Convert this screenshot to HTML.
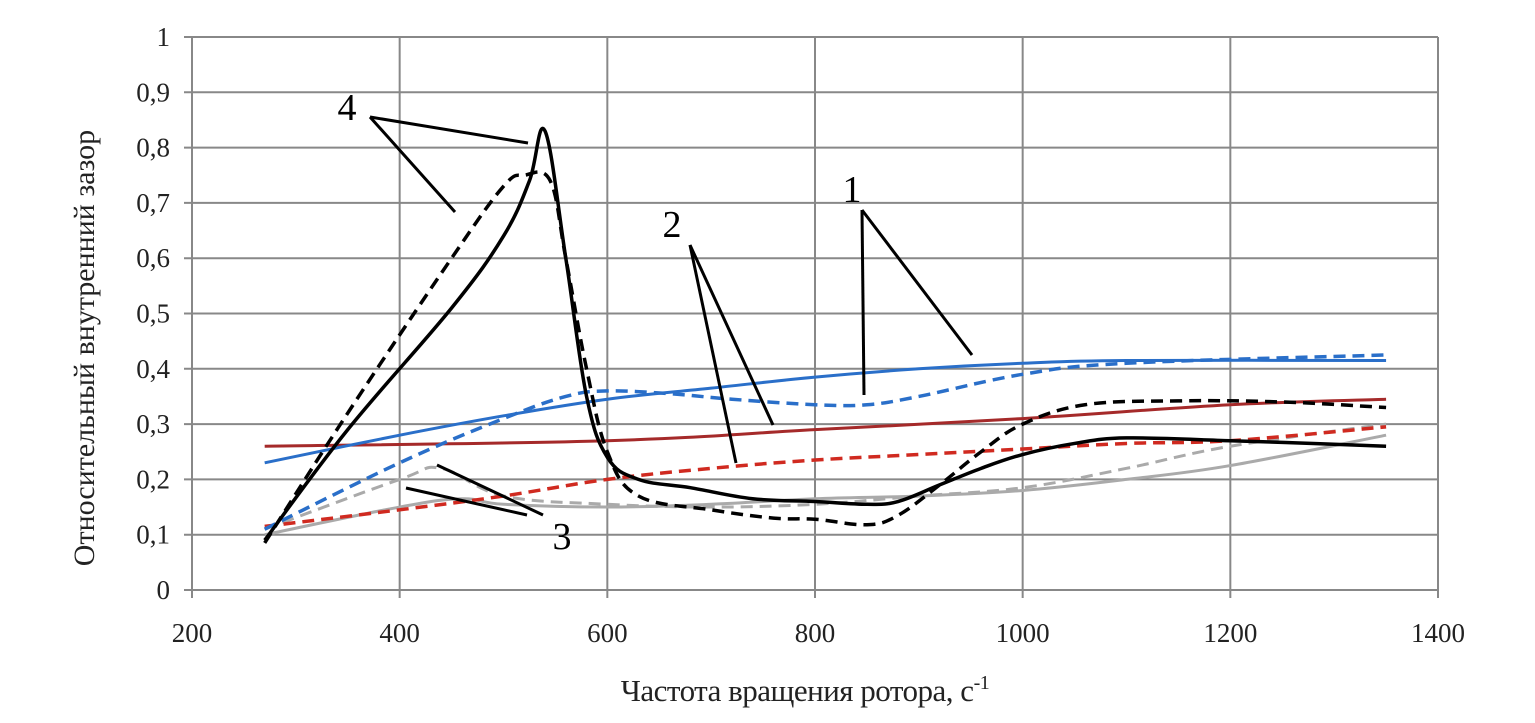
<!DOCTYPE html>
<html><head><meta charset="utf-8"><style>
body{margin:0;background:#fff}
svg{display:block;font-family:"Liberation Serif",serif}
</style></head><body>
<svg id="c" width="1535" height="723"></svg>
<script>
const xTicks=[200,400,600,800,1000,1200,1400];
const yTicks=[0,0.1,0.2,0.3,0.4,0.5,0.6,0.7,0.8,0.9,1];
const yTickLabels=["0","0,1","0,2","0,3","0,4","0,5","0,6","0,7","0,8","0,9","1"];
const blackSolidX=[270,350,450,500,525,540,560,580,600,630,680,740,800,850,880,920,960,1000,1050,1100,1200,1280,1350];
const blackSolidY=[0.09,0.29,0.51,0.64,0.74,0.83,0.6,0.35,0.24,0.2,0.185,0.165,0.16,0.155,0.16,0.19,0.22,0.245,0.265,0.275,0.27,0.265,0.26];
const blackDashX=[270,350,450,500,520,545,560,580,600,630,700,760,800,850,880,920,960,1000,1060,1150,1250,1350];
const blackDashY=[0.085,0.32,0.6,0.73,0.75,0.74,0.6,0.4,0.25,0.17,0.145,0.13,0.128,0.118,0.135,0.19,0.25,0.3,0.335,0.342,0.34,0.33];
const blueSolidX=[270,400,500,600,700,800,900,1000,1100,1350];
const blueSolidY=[0.23,0.28,0.315,0.345,0.365,0.385,0.4,0.41,0.415,0.415];
const blueDashX=[270,400,500,560,600,660,720,800,850,900,1000,1100,1350];
const blueDashY=[0.11,0.23,0.31,0.35,0.36,0.355,0.345,0.335,0.335,0.35,0.39,0.41,0.425];
const redSolidX=[270,600,800,1000,1200,1350];
const redSolidY=[0.26,0.27,0.29,0.31,0.335,0.345];
const redDashX=[270,400,500,600,700,800,900,1000,1100,1200,1350];
const redDashY=[0.115,0.145,0.17,0.2,0.22,0.235,0.245,0.255,0.265,0.27,0.295];
const graySolidX=[270,400,460,500,600,700,800,900,1000,1100,1200,1350];
const graySolidY=[0.1,0.15,0.165,0.155,0.15,0.155,0.165,0.17,0.18,0.2,0.225,0.28];
const grayDashX=[270,400,440,500,600,700,800,900,1000,1100,1200,1350];
const grayDashY=[0.11,0.2,0.22,0.17,0.155,0.15,0.155,0.17,0.185,0.22,0.26,0.3];

const NS="http://www.w3.org/2000/svg";
const svg=document.getElementById('c');
const X0=192,X1=1438,Y0=590,Y1=37;
const sx=v=>X0+(v-200)/1200*(X1-X0);
const sy=v=>Y0-v*(Y0-Y1);
function mk(t,a,p){const e=document.createElementNS(NS,t);for(const k in a)e.setAttribute(k,a[k]);(p||svg).appendChild(e);return e;}

const grid=mk('g',{});


yTicks.forEach((v,i)=>{
  const l=mk('line',{x1:X0-8,x2:X1,y1:sy(v),y2:sy(v),stroke:'#888','stroke-width':2},grid);
  
  
  const t=mk('text',{x:X0-22,y:sy(v)+9,'text-anchor':'end','font-size':27,fill:'#222'});
  t.textContent=yTickLabels[i];
  
  
});
xTicks.forEach(v=>{
  const l=mk('line',{x1:sx(v),x2:sx(v),y1:Y1,y2:Y0+8,stroke:'#888','stroke-width':2},grid);
  
  
  const t=mk('text',{x:sx(v),y:Y0+52,'text-anchor':'middle','font-size':27,fill:'#222'});
  t.textContent=String(v);
  
  
});

function smooth(xs,ys){
  const p=xs.map((x,i)=>[sx(x),sy(ys[i])]);
  let d='M'+p[0][0]+','+p[0][1];
  for(let i=0;i<p.length-1;i++){
    const a=p[Math.max(0,i-1)],b=p[i],c=p[i+1],e=p[Math.min(p.length-1,i+2)];
    const t=0.18;
    d+=` C${b[0]+(c[0]-a[0])*t},${b[1]+(c[1]-a[1])*t} ${c[0]-(e[0]-b[0])*t},${c[1]-(e[1]-b[1])*t} ${c[0]},${c[1]}`;
  }
  return d;
}
function series(xs,ys,col,dash,name,w){
  const p=mk('path',{d:smooth(xs,ys),fill:'none',stroke:col,'stroke-width':w||3,'stroke-dasharray':dash?'12,7':'none'});
  
  
}
series(graySolidX,graySolidY,'#aaa',false,'series-3-solid');
series(grayDashX,grayDashY,'#aaa',true,'series-3-dashed');
series(redSolidX,redSolidY,'#a52a2a',false,'series-2-solid');
series(redDashX,redDashY,'#d02a20',true,'series-2-dashed',3.5);
series(blueSolidX,blueSolidY,'#2a6fc9',false,'series-1-solid');
series(blueDashX,blueDashY,'#2a6fc9',true,'series-1-dashed',3.5);
series(blackSolidX,blackSolidY,'#000',false,'series-4-solid',3.5);
series(blackDashX,blackDashY,'#000',true,'series-4-dashed',3.5);

const ann=[[370,117,528,143],[370,117,455,212],[862,210,972,355],[862,210,864,395],[690,245,773,425],[690,245,736,463],[543,515,437,465],[527,515,406,488]];
ann.forEach(a=>{
  const l=mk('line',{x1:a[0],y1:a[1],x2:a[2],y2:a[3],stroke:'#000','stroke-width':3});
  
  
});
[['4',347,120],['1',852,202],['2',672,237],['3',562,549]].forEach(a=>{
  const t=mk('text',{x:a[1],y:a[2],'text-anchor':'middle','font-size':38,fill:'#000'});
  t.textContent=a[0];
  
  
});

const xt=mk('text',{x:805,y:701,'text-anchor':'middle','font-size':31,fill:'#222','letter-spacing':'-0.5'});
xt.innerHTML='Частота вращения ротора, с<tspan dy="-12" font-size="20">-1</tspan>';


const yt=mk('text',{x:0,y:0,'text-anchor':'middle','font-size':30,fill:'#222',transform:'translate(94,348) rotate(-90)'});
yt.textContent='Относительный  внутренний  зазор';
yt.setAttribute('xml:space','preserve');


</script>
</body></html>
